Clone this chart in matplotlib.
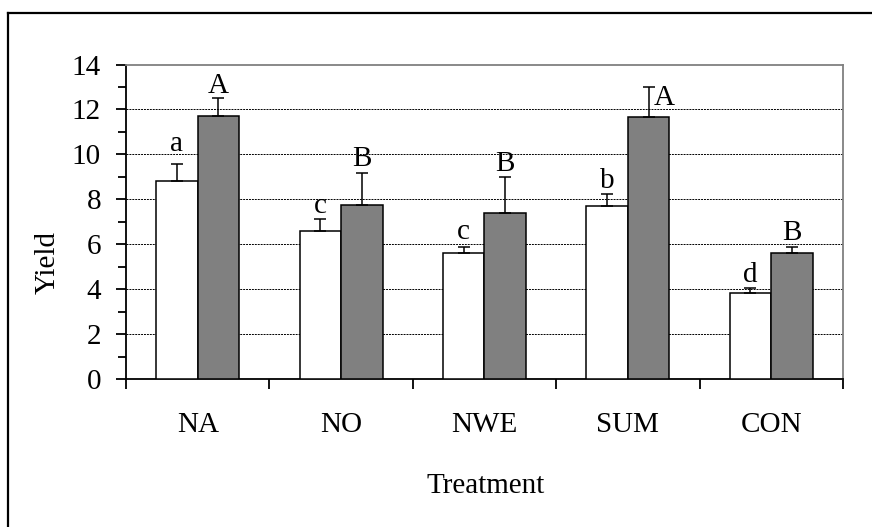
import matplotlib
matplotlib.use("Agg")
import matplotlib.pyplot as plt
import matplotlib.lines as mlines
import numpy as np

# ---------------------------------------------------------------------------
# Données
# ---------------------------------------------------------------------------
traitements = ["NA", "NO", "NWE", "SUM", "CON"]

rend_blanc = [8.8, 6.6, 5.63, 7.69, 3.85]
err_blanc  = [0.78, 0.51, 0.25, 0.55, 0.19]
lettres_blanc = ["a", "c", "c", "b", "d"]

rend_gris = [11.7, 7.75, 7.39, 11.66, 5.63]
err_gris  = [0.8, 1.42, 1.59, 1.36, 0.25]
lettres_gris = ["A", "B", "B", "A", "B"]

graduations_y = [0, 2, 4, 6, 8, 10, 12, 14]

# décalages (points) des lettres au-dessus des barres d'erreur
dec_blanc = [(0, 9.4), (0, 4.7), (0, 5.5), (0, 4.3), (0, 4.5)]
dec_gris  = [(0, 3.6), (0, 4.8), (0, 4.5), (11, -13), (0, 5.3)]

# ---------------------------------------------------------------------------
# Figure
# ---------------------------------------------------------------------------
plt.rcParams["font.family"] = ["Liberation Serif", "DejaVu Serif"]
TAILLE = 21

fig = plt.figure(figsize=(8.72, 5.27), dpi=100)
ax = fig.add_axes([0.1445, 0.2808, 0.8222, 0.5968])

x = np.arange(len(traitements)) + 0.5
larg = 0.29

ax.bar(x - larg / 2, rend_blanc, larg, color="white", edgecolor="black",
       linewidth=1.1, zorder=3)
ax.bar(x + larg / 2, rend_gris, larg, color="#808080", edgecolor="black",
       linewidth=1.1, zorder=3)

zeros = np.zeros(len(x))
ax.errorbar(x - larg / 2, rend_blanc, yerr=[zeros, err_blanc], fmt="none",
            ecolor="black", elinewidth=1.1, capsize=4, capthick=1.1, zorder=4)
ax.errorbar(x + larg / 2, rend_gris, yerr=[zeros, err_gris], fmt="none",
            ecolor="black", elinewidth=1.1, capsize=4, capthick=1.1, zorder=4)

for i in range(len(x)):
    ax.annotate(lettres_blanc[i], (x[i] - larg / 2, rend_blanc[i] + err_blanc[i]),
                xytext=dec_blanc[i], textcoords="offset points",
                ha="center", va="baseline", fontsize=TAILLE, zorder=5)
    ax.annotate(lettres_gris[i], (x[i] + larg / 2, rend_gris[i] + err_gris[i]),
                xytext=dec_gris[i], textcoords="offset points",
                ha="center", va="baseline", fontsize=TAILLE, zorder=5)

ax.set_xlim(0, len(traitements))
ax.set_ylim(0, 14)

# grille pointillée
for g in graduations_y[1:-1]:
    ax.axhline(g, color="black", linewidth=0.7, linestyle=(0, (2, 1)), zorder=1)

# bordures
ax.spines["left"].set_linewidth(1.3)
ax.spines["bottom"].set_linewidth(1.3)
ax.spines["top"].set_color("#808080")
ax.spines["right"].set_color("#808080")
ax.spines["top"].set_linewidth(1.3)
ax.spines["right"].set_linewidth(1.3)

ax.set_yticks(graduations_y)
ax.set_yticks(np.arange(1, 14, 2), minor=True)
ax.tick_params(axis="y", which="major", direction="out", length=7, width=1.3,
               pad=11, labelsize=TAILLE)
ax.tick_params(axis="y", which="minor", direction="out", length=6, width=1.3)

ax.set_xticks(np.arange(len(traitements) + 1))
ax.set_xticklabels([])
ax.set_xticks(x, minor=True)
ax.set_xticklabels(traitements, minor=True)
ax.tick_params(axis="x", which="major", direction="out", length=7, width=1.3)
ax.tick_params(axis="x", which="minor", length=0, pad=24, labelsize=TAILLE)

fig.text(0.0545, 0.502, "Yield", rotation=90, ha="center", va="center",
         fontsize=TAILLE)
fig.text(0.557, 0.065, "Treatment", ha="center", va="baseline",
         fontsize=TAILLE)

# cadre extérieur (haut et gauche)
fig.add_artist(mlines.Line2D([0.0092, 1.0], [0.9753, 0.9753], color="black",
                             linewidth=1.6, transform=fig.transFigure))
fig.add_artist(mlines.Line2D([0.0092, 0.0092], [0.0, 0.9753], color="black",
                             linewidth=1.6, transform=fig.transFigure))

fig.savefig("out.png", dpi=100)
